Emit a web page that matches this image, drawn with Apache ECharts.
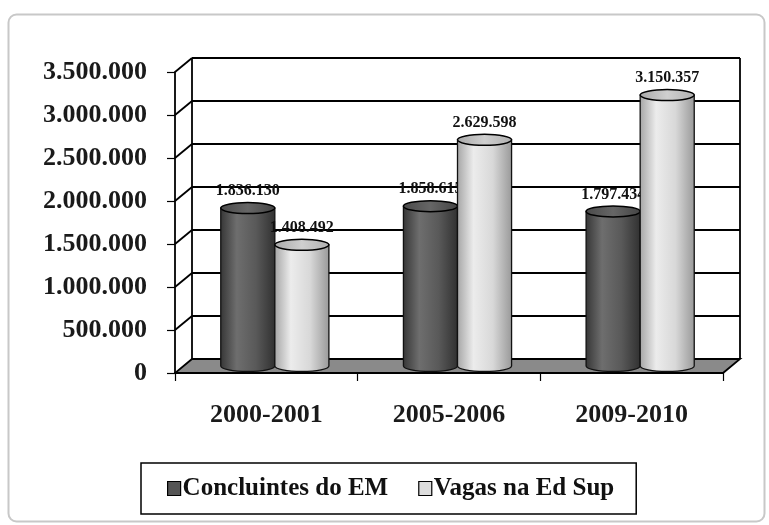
<!DOCTYPE html>
<html>
<head>
<meta charset="utf-8">
<script src="https://cdn.jsdelivr.net/npm/echarts@6/dist/echarts.min.js"></script>
<style>
  html, body { margin: 0; padding: 0; background: #fff; }
  #main { width: 769px; height: 525px; }
</style>
</head>
<body>
<div id="main"></div>
<script>
// dados
const categories = ["2000-2001", "2005-2006", "2009-2010"];
const concluintes = [1836130, 1858615, 1797434];
const vagas = [1408492, 2629598, 3150357];
const yTicks = [0, 500000, 1000000, 1500000, 2000000, 2500000, 3000000, 3500000];

const FONT = "'Liberation Serif', 'Times New Roman', serif";
const DX = 17; // profundidade 3D
const DY = -14;

function fmt(v) {
  return String(v).replace(/\B(?=(\d{3})+(?!\d))/g, ".");
}

// paredes, piso e linhas de grade em "3D"
function renderWalls(params, api) {
  const cs = params.coordSys;
  const L = cs.x;
  const R = cs.x + cs.width;
  const y0 = api.coord([0, yTicks[0]])[1];
  const yTop = api.coord([0, yTicks[yTicks.length - 1]])[1];
  const line = { stroke: "#000", lineWidth: 1.8 };
  const children = [];

  children.push({
    type: "polygon",
    shape: { points: [[L, y0], [R, y0], [R + DX, y0 + DY], [L + DX, y0 + DY]] },
    style: { fill: "#8a8a8a", stroke: "#000", lineWidth: 1.8 },
  });
  yTicks.forEach((v) => {
    if (v === 0) return;
    const y = api.coord([0, v])[1];
    children.push({
      type: "line",
      shape: { x1: L + DX, y1: y + DY, x2: R + DX, y2: y + DY },
      style: line,
    });
    children.push({
      type: "line",
      shape: { x1: L, y1: y, x2: L + DX, y2: y + DY },
      style: line,
    });
  });
  children.push({
    type: "line",
    shape: { x1: L + DX, y1: yTop + DY, x2: L + DX, y2: y0 + DY },
    style: line,
  });
  children.push({
    type: "line",
    shape: { x1: R + DX, y1: yTop + DY, x2: R + DX, y2: y0 + DY },
    style: line,
  });
  return { type: "group", children: children };
}

// cilindros
function makeCylinder(side, bodyStops, topStops) {
  return function (params, api) {
    const idx = api.value(0);
    const val = api.value(1);
    const bw = api.size([1, 0])[0];
    const rx = bw * 0.148;
    const ry = 5.5;
    const top = api.coord([idx, val]);
    const base = api.coord([idx, 0]);
    const cx = top[0] + DX / 2 + side * rx;
    const yT = top[1] + DY / 2;
    const yB = base[1] + DY / 2;
    const path =
      "M" + (cx - rx) + " " + yT +
      " L" + (cx - rx) + " " + yB +
      " A" + rx + " " + ry + " 0 0 0 " + (cx + rx) + " " + yB +
      " L" + (cx + rx) + " " + yT + " Z";
    return {
      type: "group",
      children: [
        {
          type: "path",
          shape: { pathData: path },
          style: {
            fill: new echarts.graphic.LinearGradient(0, 0, 1, 0, bodyStops),
            stroke: "#111",
            lineWidth: 1.3,
          },
        },
        {
          type: "ellipse",
          shape: { cx: cx, cy: yT, rx: rx, ry: ry },
          style: {
            fill: new echarts.graphic.LinearGradient(0, 0, 1, 0, topStops),
            stroke: "#000",
            lineWidth: 1.5,
          },
        },
        {
          type: "text",
          style: {
            text: fmt(val),
            x: cx,
            y: yT - 17,
            align: "center",
            verticalAlign: "middle",
            fontFamily: FONT,
            fontWeight: "bold",
            fontSize: 16,
            fill: "#111",
          },
        },
      ],
    };
  };
}

const darkBody = [
  { offset: 0, color: "#353535" },
  { offset: 0.3, color: "#6e6e6e" },
  { offset: 0.65, color: "#595959" },
  { offset: 1, color: "#303030" },
];
const darkTop = [
  { offset: 0, color: "#4a4a4a" },
  { offset: 0.5, color: "#666" },
  { offset: 1, color: "#444" },
];
const lightBody = [
  { offset: 0, color: "#a4a4a4" },
  { offset: 0.3, color: "#ececec" },
  { offset: 0.65, color: "#d8d8d8" },
  { offset: 1, color: "#989898" },
];
const lightTop = [
  { offset: 0, color: "#a8a8a8" },
  { offset: 0.5, color: "#cfcfcf" },
  { offset: 1, color: "#b0b0b0" },
];

const chart = echarts.init(document.getElementById("main"));

const option = {
  backgroundColor: "#fff",
  animation: false,
  graphic: [
    {
      type: "rect",
      left: 6,
      top: 12,
      shape: { width: 756, height: 507, r: 8 },
      style: { fill: "none", stroke: "#c8c8c8", lineWidth: 2 },
      z: -1,
    },
  ],
  grid: { left: 175, right: 46, top: 72, bottom: 152 },
  legend: {
    left: 141,
    top: 463,
    padding: [13, 22, 13, 26],
    itemGap: 30,
    itemWidth: 13,
    itemHeight: 14,
    icon: "rect",
    borderColor: "#000",
    borderWidth: 1.5,
    textStyle: { fontFamily: FONT, fontWeight: "bold", fontSize: 25, color: "#111", padding: [0, 0, 0, -3] },
    data: [
      { name: "Concluintes do EM", itemStyle: { color: "#555", borderColor: "#000", borderWidth: 1.2 } },
      { name: "Vagas na Ed Sup", itemStyle: { color: "#ddd", borderColor: "#000", borderWidth: 1.2 } },
    ],
  },
  xAxis: {
    type: "category",
    data: categories,
    axisLine: { show: true, lineStyle: { color: "#000", width: 1.8 } },
    axisTick: { show: true, length: 8, lineStyle: { color: "#000", width: 1.2 } },
    axisLabel: { margin: 29, fontFamily: FONT, fontWeight: "bold", fontSize: 26, color: "#1a1a1a" },
    splitLine: { show: false },
  },
  yAxis: {
    type: "value",
    min: 0,
    max: 3500000,
    interval: 500000,
    axisLine: { show: true, lineStyle: { color: "#000", width: 1.8 } },
    axisTick: { show: true, length: 8, lineStyle: { color: "#000", width: 1.2 } },
    axisLabel: {
      margin: 28,
      fontFamily: FONT,
      fontWeight: "bold",
      fontSize: 26,
      color: "#1a1a1a",
      formatter: (v) => fmt(v),
    },
    splitLine: { show: false },
  },
  series: [
    {
      name: "walls",
      type: "custom",
      silent: true,
      renderItem: renderWalls,
      data: [[0, 0]],
      z: 1,
    },
    {
      name: "Concluintes do EM",
      type: "custom",
      itemStyle: { color: "#555" },
      renderItem: makeCylinder(-1, darkBody, darkTop),
      data: concluintes.map((v, i) => [i, v]),
      z: 2,
    },
    {
      name: "Vagas na Ed Sup",
      type: "custom",
      itemStyle: { color: "#ddd" },
      renderItem: makeCylinder(1, lightBody, lightTop),
      data: vagas.map((v, i) => [i, v]),
      z: 3,
    },
  ],
};

chart.setOption(option);

window.addEventListener("resize", () => {
  chart.resize();
});
</script>
</body>
</html>
